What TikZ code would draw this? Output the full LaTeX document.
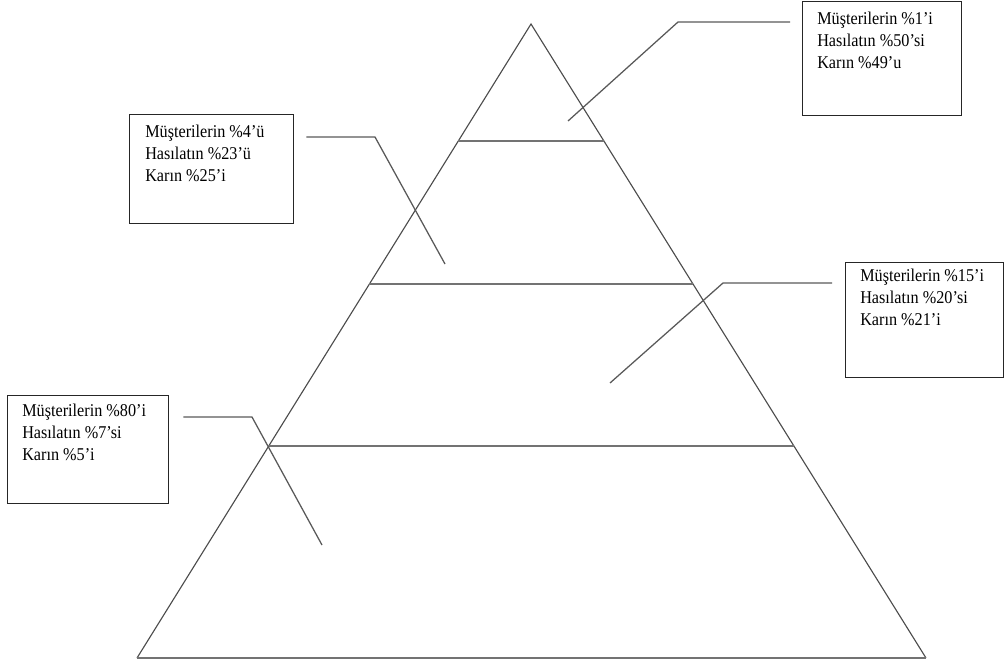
\documentclass[tikz,border=0pt]{standalone}
\usepackage{fontspec}
\setmainfont{Liberation Serif}[FakeStretch=0.9]
\usetikzlibrary{calc}

\tikzset{
  kutu/.style={draw=black!85,line width=0.9pt,anchor=north west,inner sep=0pt},
  yazi/.style={anchor=north west,align=left,inner sep=0pt,font=\fontsize{12.8}{15.6}\selectfont},
  kenar/.style={draw=black!70,line width=0.8pt},
  kat/.style={draw=black!55,line width=1.3pt},
  ok/.style={draw=black!65,line width=0.9pt}
}

\begin{document}
\begin{tikzpicture}[x=0.025cm,y=-0.025cm,line join=miter]
  \useasboundingbox (0,0) rectangle (1004,664);
  % piramit
  \coordinate (tepe) at (531,24);
  \coordinate (sol) at (137,658);
  \coordinate (sag) at (926,658);
  \draw[kenar] (sol) -- (tepe) -- (sag);
  \draw[kat] (sol) -- (sag);
  \foreach \f in {0.1845,0.410,0.6656}
    \draw[kat] ($(tepe)!\f!(sol)$) -- ($(tepe)!\f!(sag)$);
  % kutular
  \node[kutu,minimum width=3.975cm,minimum height=2.85cm] (k1) at (802,1) {};
  \node[kutu,minimum width=4.1cm,minimum height=2.725cm] (k2) at (129,114) {};
  \node[kutu,minimum width=3.95cm,minimum height=2.875cm] (k3) at (845,262) {};
  \node[kutu,minimum width=4.025cm,minimum height=2.7cm] (k4) at (7,395) {};
  \node[yazi] (y1) at ([shift={(15,11)}]k1.north west) {Müşterilerin \%1’i\\Hasılatın \%50’si\\Karın \%49’u};
  \node[yazi] (y2) at ([shift={(16,11)}]k2.north west) {Müşterilerin \%4’ü\\Hasılatın \%23’ü\\Karın \%25’i};
  \node[yazi] (y3) at ([shift={(15,7)}]k3.north west) {Müşterilerin \%15’i\\Hasılatın \%20’si\\Karın \%21’i};
  \node[yazi] (y4) at ([shift={(15,9)}]k4.north west) {Müşterilerin \%80’i\\Hasılatın \%7’si\\Karın \%5’i};
  % oklar
  \coordinate (h1) at (568,121);
  \coordinate (h2) at (445,264);
  \coordinate (h3) at (610,383);
  \coordinate (h4) at (322,545);
  \draw[ok] ([shift={(-12,21)}]k1.north west) -- (678,22) -- (h1);
  \draw[ok] ([shift={(12,23)}]k2.north east) -- (375,137) -- (h2);
  \draw[ok] ([shift={(-13,21)}]k3.north west) -- (723,283) -- (h3);
  \draw[ok] ([shift={(14,22)}]k4.north east) -- (252,417) -- (h4);
\end{tikzpicture}
\end{document}
